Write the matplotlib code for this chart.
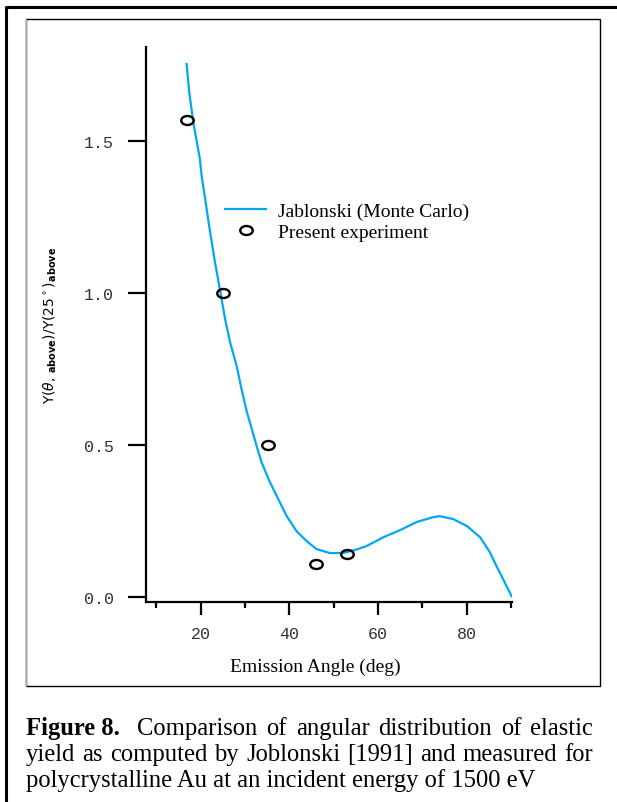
"""Angular distribution of elastic yield: Monte Carlo curve vs experiment."""

import matplotlib

matplotlib.use("Agg")
import matplotlib.pyplot as plt
from matplotlib.lines import Line2D
from matplotlib.patches import Rectangle
from matplotlib.path import Path

# Jablonski (Monte Carlo) curve
mc_angle = [16.8, 17.4, 18.3, 19.8, 20.2, 21.0, 21.9, 23.2, 24.3, 25.1, 25.5,
            26.6, 28.1, 29.2, 30.4, 31.5, 32.6, 33.7, 35.6, 37.5, 39.4, 41.6,
            43.9, 46.1, 49.1, 52.1, 54.8, 57.4, 61.2, 64.9, 68.7, 72.4, 73.9,
            76.9, 80.0, 83.0, 85.2, 86.7, 88.2, 90.1]
mc_yield = [1.753, 1.661, 1.563, 1.441, 1.385, 1.309, 1.220, 1.102, 1.013,
            0.947, 0.914, 0.839, 0.760, 0.684, 0.609, 0.553, 0.497, 0.444,
            0.378, 0.322, 0.266, 0.217, 0.184, 0.158, 0.145, 0.145, 0.155,
            0.168, 0.197, 0.220, 0.247, 0.263, 0.266, 0.257, 0.234, 0.197,
            0.148, 0.102, 0.059, 0.003]

# present experiment
exp_angle = [16.9, 25.0, 35.2, 46.0, 53.0]
exp_yield = [1.569, 1.000, 0.500, 0.109, 0.141]

x_major = [20, 40, 60, 80]
x_minor = [10, 30, 50, 70, 90]
y_major = [0.0, 0.5, 1.0, 1.5]

caption_lines = [
    [("Figure 8.", "bold"), ("Comparison", "normal"), ("of", "normal"),
     ("angular", "normal"), ("distribution", "normal"), ("of", "normal"),
     ("elastic", "normal")],
    [("yield", "normal"), ("as", "normal"), ("computed", "normal"),
     ("by", "normal"), ("Joblonski", "normal"), ("[1991]", "normal"),
     ("and", "normal"), ("measured", "normal"), ("for", "normal")],
]
caption_last = "polycrystalline Au at an incident energy of 1500 eV"

W, H = 617, 803
SERIF = "Liberation Serif"
MONO = "Liberation Mono"
BLUE = "#00a8f0"


def px(x, y):
    """Pixel coords (top-left origin) to figure fraction."""
    return x / W, 1 - y / H


def ellipse_marker(ratio=0.72):
    circle = Path.unit_circle()
    verts = circle.vertices.copy()
    verts[:, 1] *= ratio
    return Path(verts, circle.codes)


def draw_justified(fig, renderer, words, x0, x1, baseline, size):
    widths = []
    for text, weight in words:
        t = fig.text(0, 0, text, fontsize=size, family=SERIF, weight=weight)
        widths.append(t.get_window_extent(renderer).width)
        t.remove()
    # the gap after the bold label counts double
    gaps = [2.0 if words[i][1] == "bold" else 1.0 for i in range(len(words) - 1)]
    unit = (x1 - x0 - sum(widths)) / sum(gaps)
    x = x0
    for i, (text, weight) in enumerate(words):
        fx, fy = px(x, baseline)
        fig.text(fx, fy, text, fontsize=size, family=SERIF, weight=weight,
                 va="baseline", ha="left")
        if i < len(gaps):
            x += widths[i] + unit * gaps[i]


def main() -> None:
    fig = plt.figure(figsize=(W / 100, H / 100), dpi=100)
    renderer = fig.canvas.get_renderer()

    # outer page border (left and top only) and inner figure frame
    fig.lines.append(Line2D([6 / W, 6 / W, 1.0], [0.0, 1 - 8 / H, 1 - 8 / H],
                            transform=fig.transFigure, color="black",
                            linewidth=2.2))
    fig.patches.append(Rectangle(px(26, 687), 574 / W, 667 / H,
                                 transform=fig.transFigure, fill=False,
                                 edgecolor="black", linewidth=1.0))
    fig.lines.append(Line2D([26 / W, 26 / W], [1 - 687 / H, 1 - 20 / H],
                            transform=fig.transFigure, color="#c8c8c8",
                            linewidth=1.2))

    left, bottom = px(146, 603)
    right, top = px(512, 48)
    ax = fig.add_axes([left, bottom, right - left, top - bottom])

    ax.plot(mc_angle, mc_yield, color=BLUE, linewidth=1.6,
            label="Jablonski (Monte Carlo)")
    ax.plot(exp_angle, exp_yield, linestyle="none", marker=ellipse_marker(),
            markersize=9, markerfacecolor="none", markeredgecolor="black",
            markeredgewidth=1.7, label="Present experiment")

    ax.set_xlim(7.65, 90.2)
    ax.set_ylim(-0.016, 1.809)
    for side in ("top", "right"):
        ax.spines[side].set_visible(False)
    for side in ("left", "bottom"):
        ax.spines[side].set_linewidth(1.6)

    ax.set_xticks(x_major)
    ax.set_xticks(x_minor, minor=True)
    ax.set_yticks(y_major)
    ax.set_yticklabels([f"{v:.1f}" for v in y_major])
    ax.tick_params(axis="x", which="major", direction="out", length=9.5,
                   width=1.6, pad=8, labelsize=12, labelcolor="#333333")
    ax.tick_params(axis="x", which="minor", direction="out", length=4.5,
                   width=1.6)
    ax.tick_params(axis="y", direction="out", length=13, width=1.6, pad=10,
                   labelsize=12, labelcolor="#333333")
    for lab in ax.get_xticklabels() + ax.get_yticklabels():
        lab.set_family(MONO)

    ax.set_xlabel("Emission Angle (deg)", family=SERIF, fontsize=14)
    ax.xaxis.set_label_coords((315 - 146) / 366, -(667 - 603) / 555)
    ax.xaxis.label.set_va("center")
    ax.set_ylabel(r"Y($\theta$, $_{\mathbf{above}}$)/Y(25$^\circ$)$_{\mathbf{above}}$",
                  fontsize=10)
    ax.yaxis.set_label_coords(-(146 - 50) / 366, (603 - 325) / 555)
    ax.yaxis.label.set_va("center")

    ax.legend(loc="upper left", bbox_to_anchor=(0.195, 0.735),
              frameon=False, prop={"family": SERIF, "size": 14},
              handlelength=2.1, handletextpad=0.6, labelspacing=0.2,
              borderaxespad=0)

    # caption
    size = 15.0
    t = fig.text(0, 0, caption_last, fontsize=size, family=SERIF)
    size *= 514 / t.get_window_extent(renderer).width
    t.remove()
    for words, baseline in zip(caption_lines, [735, 761]):
        draw_justified(fig, renderer, words, 26, 593, baseline, size)
    fx, fy = px(26, 787)
    fig.text(fx, fy, caption_last, fontsize=size, family=SERIF,
             va="baseline", ha="left")

    fig.savefig("out.png", dpi=100)
    plt.close(fig)


if __name__ == "__main__":
    main()
